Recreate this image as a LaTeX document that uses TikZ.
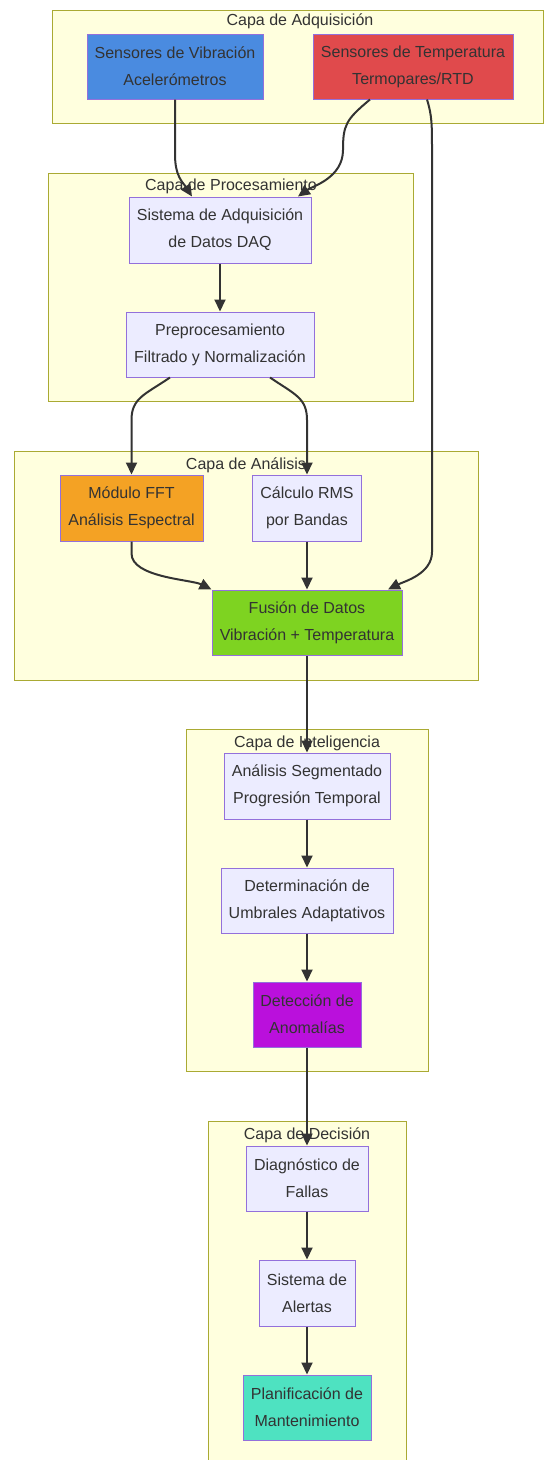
\documentclass[tikz,border=0pt]{standalone}
\usepackage{fontspec}
\setmainfont{Liberation Sans}
\definecolor{CapaFill}   {HTML}{FFFFDE}
\definecolor{CapaLine}   {HTML}{AAAA33}
\definecolor{NodoFill}   {HTML}{ECECFF}
\definecolor{NodoLine}   {HTML}{9370DB}
\definecolor{Texto}      {HTML}{333333}
\definecolor{Flecha}     {HTML}{333333}
\definecolor{VibAzul}    {HTML}{4A8BE0}
\definecolor{TempRojo}   {HTML}{E04A4C}
\definecolor{FFTNaranja} {HTML}{F4A224}
\definecolor{FusVerde}   {HTML}{7ED321}
\definecolor{AnoMagenta} {HTML}{BA10DC}
\definecolor{PlanTurq}   {HTML}{4EE2C1}
\usetikzlibrary{arrows.meta,calc}

\begin{document}
\begin{tikzpicture}[x=1pt,y=-1pt,
    capa/.style={fill=CapaFill,draw=CapaLine,line width=1pt},
    titulo/.style={text=Texto,font=\fontsize{16}{27}\selectfont,inner sep=0pt},
    caja/.style={draw=NodoLine,fill=NodoFill,line width=1pt,text=Texto,align=center,
      inner sep=0pt,font=\fontsize{16}{27}\selectfont},
    flecha/.style={draw=Flecha,line width=2pt,-{Triangle[length=12pt,width=11pt]}}]
  \useasboundingbox[fill=white] (0,0) rectangle (544,1460);
  %% Capas
  \draw[capa] (52,10) rectangle (543,123);
  \node[titulo] (tAdq) at (300,21) {Capa de Adquisición};
  \draw[capa] (48,173) rectangle (413,401);
  \node[titulo] (tProc) at (231,186) {Capa de Procesamiento};
  \draw[capa] (14,451) rectangle (478,680);
  \node[titulo] (tAna) at (246,465) {Capa de Análisis};
  \draw[capa] (186,729) rectangle (428,1071);
  \node[titulo] (tInt) at (307,743) {Capa de Inteligencia};
  \draw[capa] (208,1121) rectangle (406,1462);
  \node[titulo] (tDec) at (307,1135) {Capa de Decisión};
  %% Adquisicion
  \node[caja,fill=VibAzul,minimum width=176pt,minimum height=65pt]
       (vib) at (175,66.5) {Sensores de Vibración\\Acelerómetros};
  \node[caja,fill=TempRojo,minimum width=200pt,minimum height=65pt]
       (temp) at (413,66.5) {Sensores de Temperatura\\Termopares/RTD};
  %% Procesamiento
  \node[caja,minimum width=182pt,minimum height=66pt]
       (daq) at (220,230) {Sistema de Adquisición\\de Datos DAQ};
  \node[caja,minimum width=188pt,minimum height=65pt]
       (pre) at (220,344.5) {Preprocesamiento\\Filtrado y Normalización};
  %% Analisis
  \node[caja,fill=FFTNaranja,minimum width=143pt,minimum height=66pt]
       (fft) at (131.5,508) {Módulo FFT\\Análisis Espectral};
  \node[caja,minimum width=109pt,minimum height=66pt]
       (rms) at (307,508) {Cálculo RMS\\por Bandas};
  \node[caja,fill=FusVerde,minimum width=190pt,minimum height=65pt]
       (fus) at (307,622.5) {Fusión de Datos\\Vibración + Temperatura};
  %% Inteligencia
  \node[caja,minimum width=166pt,minimum height=66pt]
       (seg) at (307,786) {Análisis Segmentado\\Progresión Temporal};
  \node[caja,minimum width=172pt,minimum height=65pt]
       (umb) at (307,900.5) {Determinación de\\Umbrales Adaptativos};
  \node[caja,fill=AnoMagenta,minimum width=108pt,minimum height=65pt]
       (ano) at (307,1014.5) {Detección de\\Anomalías};
  %% Decision
  \node[caja,minimum width=122pt,minimum height=65pt]
       (diag) at (307,1178.5) {Diagnóstico de\\Fallas};
  \node[caja,minimum width=96pt,minimum height=66pt]
       (ale) at (307,1293) {Sistema de\\Alertas};
  \node[caja,fill=PlanTurq,minimum width=128pt,minimum height=65pt]
       (plan) at (307,1407.5) {Planificación de\\Mantenimiento};
  %% Flechas
  \draw[flecha] (vib.south) -- ++(0,55)
       .. controls +(0,22) and +(-9,-14) .. ($(daq.north)+(-28,0)$);
  \draw[flecha] ($(temp.south)+(-43,0)$)
       .. controls +(-24,20) and +(0,-25) .. (343,150)
       .. controls +(0,28) and +(14,-10) .. ($(daq.north)+(78,0)$);
  \draw[flecha] ($(temp.south)+(14,0)$)
       .. controls +(5,16) and +(0,-25) .. (432,150) -- (432,552)
       .. controls +(0,22) and +(16,-8) .. ($(fus.north)+(81,0)$);
  \draw[flecha] (daq) -- (pre);
  \draw[flecha] ($(pre.south)+(-50,0)$)
       .. controls +(-25,17) and +(0,-22) .. (131.5,420) -- (fft.north);
  \draw[flecha] ($(pre.south)+(50,0)$)
       .. controls +(25,17) and +(0,-22) .. (307,420) -- (rms.north);
  \draw[flecha] (fft.south) -- ++(0,12)
       .. controls +(0,24) and +(-20,-10) .. (fus.north west);
  \draw[flecha] (rms) -- (fus);
  \draw[flecha] (fus) -- (seg);
  \draw[flecha] (seg) -- (umb);
  \draw[flecha] (umb) -- (ano);
  \draw[flecha] (ano) -- (diag);
  \draw[flecha] (diag) -- (ale);
  \draw[flecha] (ale) -- (plan);
\end{tikzpicture}
\end{document}
